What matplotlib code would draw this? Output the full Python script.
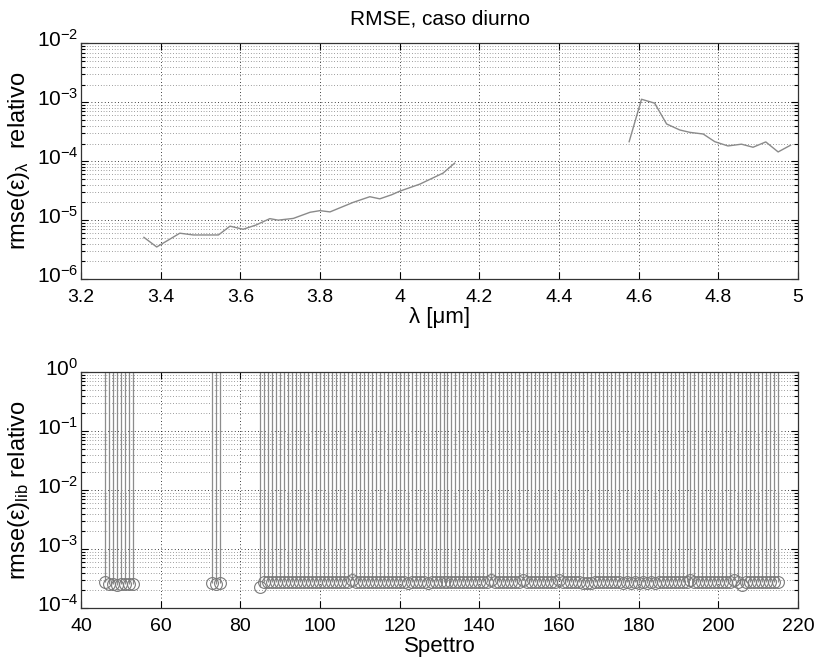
import numpy as np
import matplotlib
matplotlib.use("Agg")
import matplotlib.pyplot as plt
import matplotlib.transforms as mtransforms
from matplotlib.ticker import LogLocator, FuncFormatter, NullFormatter, NullLocator

plt.rcParams['font.family'] = ['Liberation Sans', 'DejaVu Sans']
plt.rcParams['mathtext.fontset'] = 'custom'
plt.rcParams['mathtext.rm'] = 'Liberation Sans'
plt.rcParams['mathtext.it'] = 'Liberation Sans:italic'
plt.rcParams['mathtext.default'] = 'regular'

# --- spectral RMSE, two spectral windows ---
lam_a = [3.358, 3.390, 3.448, 3.482, 3.545, 3.574, 3.607, 3.640, 3.674, 3.695,
         3.733, 3.775, 3.800, 3.825, 3.883, 3.925, 3.950, 3.980, 4.000, 4.051,
         4.109, 4.138]
rmse_a = [5.1e-6, 3.5e-6, 6.0e-6, 5.6e-6, 5.6e-6, 7.9e-6, 7.0e-6, 8.3e-6, 1.06e-5, 1.0e-5,
          1.07e-5, 1.36e-5, 1.45e-5, 1.38e-5, 2.0e-5, 2.5e-5, 2.3e-5, 2.7e-5, 3.1e-5, 4.1e-5,
          6.3e-5, 9.3e-5]
lam_b = [4.576, 4.607, 4.640, 4.670, 4.703, 4.728, 4.762, 4.791, 4.824, 4.858,
         4.887, 4.919, 4.950, 4.981]
rmse_b = [2.15e-4, 1.13e-3, 9.7e-4, 4.3e-4, 3.4e-4, 3.1e-4, 2.9e-4, 2.15e-4, 1.82e-4, 1.95e-4,
          1.73e-4, 2.13e-4, 1.44e-4, 1.87e-4]

# --- library RMSE per spectrum ---
spec_1 = list(range(46, 54))
rmse_1 = [2.8e-4, 2.6e-4, 2.6e-4, 2.5e-4, 2.6e-4, 2.6e-4, 2.6e-4, 2.6e-4]
spec_2 = [73, 74, 75]
rmse_2 = [2.7e-4, 2.6e-4, 2.7e-4]
spec_3 = list(range(85, 216))
rmse_3 = [2.3e-4] + [2.8e-4] * 22 + [2.95e-4] + [2.8e-4] * 13 + [2.65e-4] + [2.8e-4] * 4 \
    + [2.65e-4] + [2.8e-4] * 15 + [2.95e-4] + [2.8e-4] * 7 + [2.95e-4] + [2.8e-4] * 8 \
    + [2.95e-4] + [2.8e-4] * 5 + [2.65e-4] * 3 + [2.8e-4] * 7 + [2.65e-4, 2.8e-4, 2.65e-4, 2.8e-4,
                                                                 2.65e-4, 2.8e-4, 2.7e-4, 2.8e-4,
                                                                 2.65e-4, 2.8e-4] \
    + [2.8e-4] * 7 + [2.95e-4] + [2.8e-4] * 10 + [2.95e-4, 2.8e-4, 2.5e-4] + [2.8e-4] * 8
rmse_3 = rmse_3[:len(spec_3)] + [2.8e-4] * max(0, len(spec_3) - len(rmse_3))

fig = plt.figure(figsize=(8.15, 6.59), dpi=100)
ax1 = fig.add_axes([0.0994, 0.5766, 0.8798, 0.3574])
ax2 = fig.add_axes([0.0994, 0.0774, 0.8798, 0.3578])

sup = FuncFormatter(lambda v, p: r'$10^{%d}$' % int(round(np.log10(v))))
num = FuncFormatter(lambda v, p: '%g' % round(v, 6))
lift = mtransforms.ScaledTranslation(0, 4 / 72, fig.dpi_scale_trans)


def style(ax):
    ax.set_yscale('log')
    ax.yaxis.set_major_formatter(sup)
    ax.yaxis.set_minor_locator(LogLocator(base=10, subs=np.arange(2, 10)))
    ax.yaxis.set_minor_formatter(NullFormatter())
    ax.xaxis.set_minor_locator(NullLocator())
    ax.xaxis.set_major_formatter(num)
    ax.tick_params(which='both', direction='in', top=True, right=True,
                   width=0.8, color='black')
    ax.tick_params(axis='x', which='major', labelsize=14, pad=7)
    ax.tick_params(axis='y', which='major', labelsize=15, pad=2)
    ax.tick_params(which='major', length=5)
    ax.tick_params(which='minor', length=3)
    ax.grid(True, which='major', axis='both', color='black', linestyle=(0, (1, 3)), linewidth=0.6)
    ax.grid(True, which='minor', axis='y', color='#444444', linestyle=(0, (1, 3)), linewidth=0.5)
    for s in ax.spines.values():
        s.set_linewidth(0.9)
        s.set_color('#333333')
    # raise the power-of-ten labels so the base sits on the tick
    for lbl in ax.get_yticklabels():
        lbl.set_transform(lbl.get_transform() + lift)


# top panel
ax1.plot(lam_a, rmse_a, color='#8a8a8a', linewidth=1.0)
ax1.plot(lam_b, rmse_b, color='#8a8a8a', linewidth=1.0)
ax1.set_xlim(3.2, 5)
ax1.set_ylim(1e-6, 1e-2)
ax1.set_xticks(np.arange(3.2, 5.01, 0.2))
ax1.set_yticks([1e-6, 1e-5, 1e-4, 1e-3, 1e-2])
style(ax1)
ax1.set_title('RMSE, caso diurno', fontsize=15, pad=14)
ax1.set_xlabel('λ [μm]', fontsize=16, labelpad=1)
ax1.set_ylabel(r'rmse(ε)$_{λ}$  relativo', fontsize=17, labelpad=3)

# bottom panel: stems reaching up to the top of the axis
for xs, ys in ((spec_1, rmse_1), (spec_2, rmse_2), (spec_3, rmse_3)):
    ax2.vlines(xs, ys, 1.0, colors='#8c8c8c', linewidth=0.9)
    ax2.plot(xs, ys, linestyle='none', marker='o', markersize=8.5,
             markerfacecolor='none', markeredgecolor='#7a7a7a', markeredgewidth=0.8)
ax2.set_xlim(40, 220)
ax2.set_ylim(1e-4, 1)
ax2.set_xticks(np.arange(40, 221, 20))
ax2.set_yticks([1e-4, 1e-3, 1e-2, 1e-1, 1])
style(ax2)
ax2.set_xlabel('Spettro', fontsize=16, labelpad=1)
ax2.set_ylabel(r'rmse(ε)$_{lib}$ relativo', fontsize=17, labelpad=3)

fig.savefig('out.png', dpi=100)
